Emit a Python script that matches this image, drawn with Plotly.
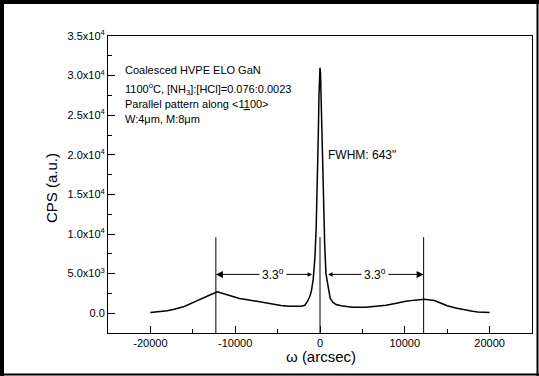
import plotly.graph_objects as go

# ---- data ----
omega = [-20000, -19000, -18000, -17200, -16000, -14800, -13800, -12850, -12100,
         -11300, -10500, -9500, -8900, -7950, -6800, -5600, -4600, -3600, -2800,
         -2200, -1800, -1500, -1200, -1000, -800, -600, -450, -300, -200, -120,
         -50, 0, 60, 130, 220, 320, 450, 550, 700, 800, 1000, 1200, 1500, 1900,
         2500, 3800, 5400, 6500, 7800, 9000, 10100, 11200, 12300, 13500, 14300,
         15000, 16000, 17000, 18000, 18600, 19500, 20000]
cps = [80, 180, 320, 500, 850, 1430, 1950, 2360, 2690,
       2450, 2190, 1850, 1770, 1600, 1380, 1140, 980, 880, 860,
       880, 1000, 1450, 2100, 2900, 4300, 7000, 10800, 16500, 22500, 27500,
       30500, 31000, 30300, 27000, 21500, 16000, 11000, 8800, 5000, 4300, 2900, 1900, 1400, 1100,
       950, 760, 760, 850, 1010, 1250, 1500, 1650, 1770, 1600, 1250,
       950, 650, 420, 250, 160, 100, 80]

x_ticks = [-20000, -10000, 0, 10000, 20000]
x_ticktext = ["-20000", "-10000", "0", "10000", "20000"]
y_ticks = [0, 5000, 10000, 15000, 20000, 25000, 30000, 35000]
y_ticktext = ["0.0", "5.0x10<sup>3</sup>", "1.0x10<sup>4</sup>", "1.5x10<sup>4</sup>",
              "2.0x10<sup>4</sup>", "2.5x10<sup>4</sup>", "3.0x10<sup>4</sup>", "3.5x10<sup>4</sup>"]

# markers / annotations positions (data units)
marker_x = [-12280, 0, 12220]
marker_top = 9600
arrow_y = 4900
peak_side = [-750, 780]
sep_label = "3.3<sup>o</sup>"
sep_label_x = [-5600, 6500]
fwhm_text = 'FWHM: 643"'
info_lines = ["Coalesced HVPE ELO GaN",
              "1100<sup>o</sup>C, [NH<sub>3</sub>]:[HCl]=0.076:0.0023",
              "Parallel pattern along &lt;1<u>1</u>00&gt;",
              "W:4\u03bcm, M:8\u03bcm"]
info_y = [30700, 28300, 26400, 24500]
x_title = "\u03c9 (arcsec)"
y_title = "CPS (a.u.)"

FONT = "Arial, 'Liberation Sans', sans-serif"

fig = go.Figure()
fig.add_trace(go.Scatter(x=omega, y=cps, mode="lines",
                         line=dict(color="black", width=1.5), showlegend=False))

shapes = []
for mx in marker_x:
    shapes.append(dict(type="line", xref="x", yref="y", x0=mx, x1=mx,
                       y0=-2500, y1=marker_top, line=dict(color="black", width=1)))

W, H = 539, 376
L, R, T, B = 108, 7, 36, 43
pw, ph = W - L - R, H - T - B
def px(x):
    return (x - L) / pw
def py(y):
    return (H - B - y) / ph
# outer frame
shapes += [
    dict(type="line", xref="paper", yref="paper", x0=px(0), x1=px(W), y0=py(2), y1=py(2),
         line=dict(color="black", width=4)),
    dict(type="line", xref="paper", yref="paper", x0=px(2), x1=px(2), y0=py(0), y1=py(H),
         line=dict(color="black", width=4)),
    dict(type="line", xref="paper", yref="paper", x0=px(537.5), x1=px(537.5), y0=py(0), y1=py(H),
         line=dict(color="black", width=2)),
    dict(type="line", xref="paper", yref="paper", x0=px(0), x1=px(W), y0=py(374.5), y1=py(374.5),
         line=dict(color="black", width=2)),
]

annotations = []
# arrows
for side, mx in zip(peak_side, [marker_x[0], marker_x[2]]):
    annotations.append(dict(x=mx, y=arrow_y, ax=side, ay=arrow_y, xref="x", yref="y",
                            axref="x", ayref="y", text="", showarrow=True,
                            arrowhead=2, arrowsize=1.4, arrowwidth=1, arrowcolor="black",
                            arrowside="end+start", startarrowhead=2, startarrowsize=0.9))
for lx in sep_label_x:
    annotations.append(dict(x=lx, y=arrow_y, xref="x", yref="y", text=sep_label,
                            showarrow=False, bgcolor="white", borderpad=2,
                            font=dict(family=FONT, size=12, color="black")))
annotations.append(dict(x=750, y=20000, xref="x", yref="y", text=fwhm_text, showarrow=False,
                        xanchor="left", yanchor="middle",
                        font=dict(family=FONT, size=12, color="black")))
for t, yy in zip(info_lines, info_y):
    annotations.append(dict(x=-23200, y=yy, xref="x", yref="y", text=t, showarrow=False,
                            xanchor="left", yanchor="middle",
                            font=dict(family=FONT, size=11, color="black")))
# axis titles
annotations.append(dict(x=px(320.5), y=py(356), xref="paper", yref="paper", text=x_title,
                        showarrow=False, xanchor="center", yanchor="middle",
                        font=dict(family=FONT, size=15, color="black")))
annotations.append(dict(x=px(51), y=py(188), xref="paper", yref="paper", text=y_title,
                        showarrow=False, xanchor="center", yanchor="middle", textangle=-90,
                        font=dict(family=FONT, size=15, color="black")))

fig.update_layout(
    width=W, height=H,
    margin=dict(l=L, r=R, t=T, b=B, pad=0, autoexpand=False),
    paper_bgcolor="white", plot_bgcolor="white",
    font=dict(family=FONT, color="black"),
    shapes=shapes, annotations=annotations,
    xaxis=dict(range=[-25000, 25000], tickvals=x_ticks, ticktext=x_ticktext,
               ticks="inside", ticklen=7, automargin=False,
               tickwidth=1, tickcolor="black", showline=True, linecolor="black",
               linewidth=1, mirror=True, showgrid=False, zeroline=False,
               tickfont=dict(size=11, family=FONT, color="black"),
               minor=dict(dtick=5000, tick0=0, ticks="inside", ticklen=4, tickcolor="black")),
    yaxis=dict(range=[-2500, 35000], tickvals=y_ticks, ticktext=y_ticktext, ticks="inside",
               ticklen=7, tickwidth=1, tickcolor="black", showline=True, linecolor="black",
               linewidth=1, mirror=True, showgrid=False, zeroline=False, automargin=False,
               tickfont=dict(size=11, family=FONT, color="black"),
               minor=dict(dtick=2500, tick0=0, ticks="inside", ticklen=4, tickcolor="black")),
)

fig.write_html("out.html", config={"displayModeBar": False},
               post_script="document.body.style.margin='0';document.body.style.overflow='hidden';")
